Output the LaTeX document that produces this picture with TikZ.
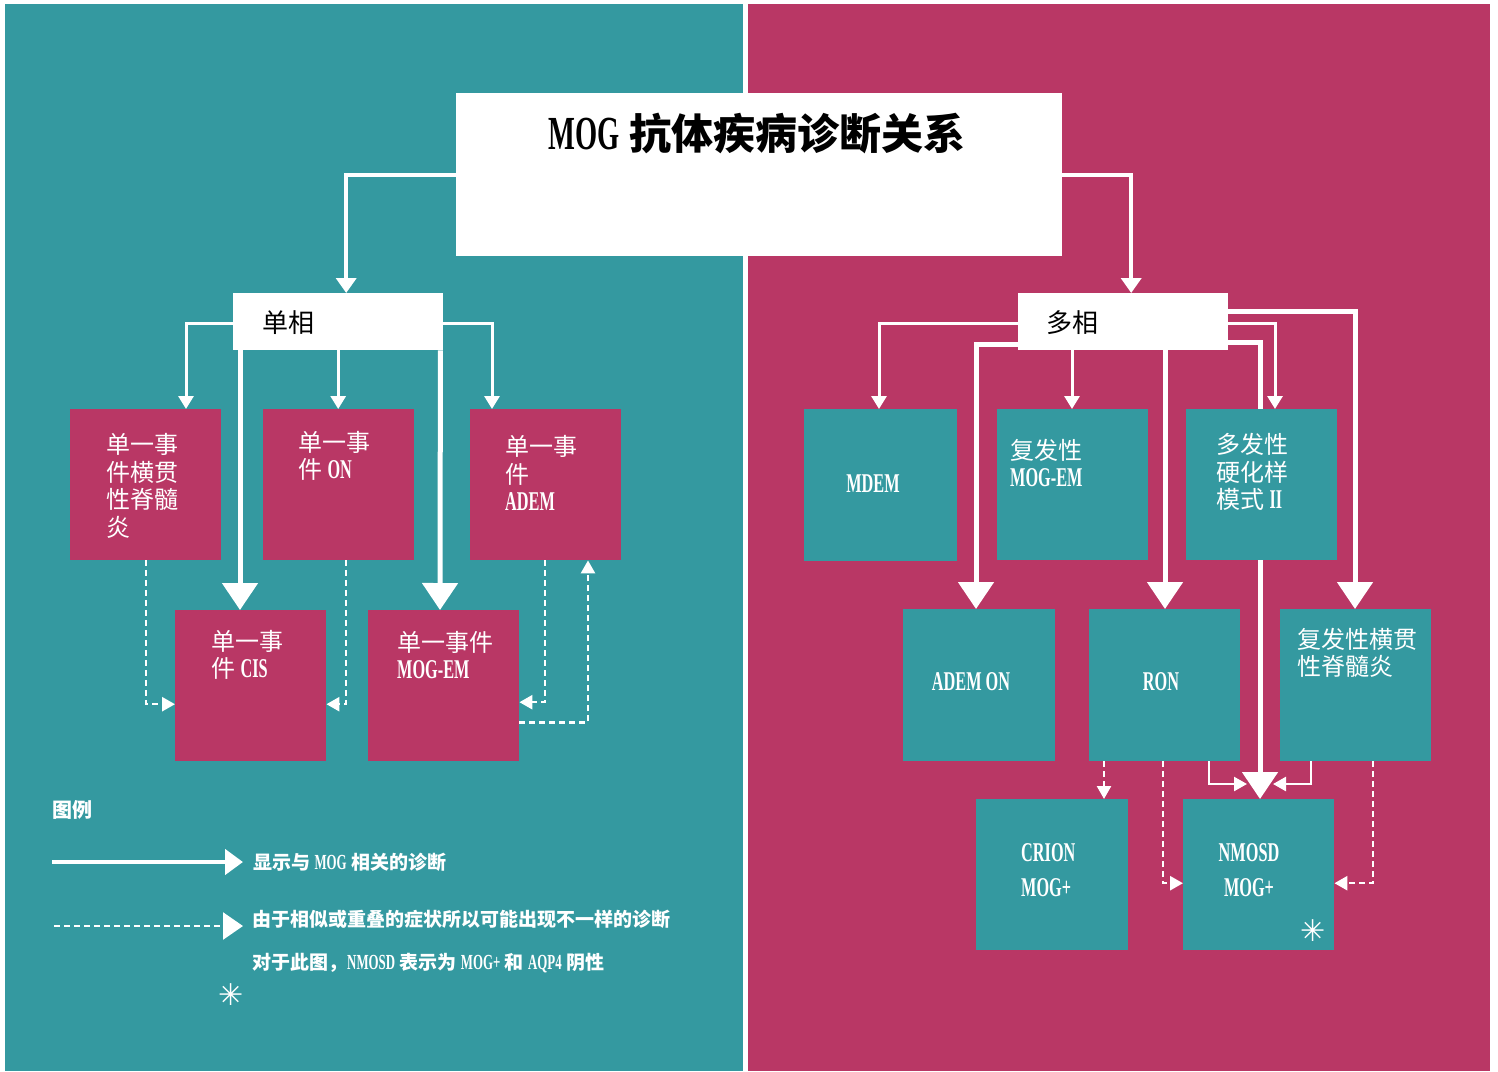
\documentclass[tikz,border=0pt]{standalone}
\usepackage{fontspec}
\setmainfont{Noto Sans CJK SC}
\newfontfamily\latf[FakeStretch=0.6,Scale=1.13]{Liberation Serif}
\newfontfamily\symf{DejaVu Sans}
\newcommand\lat[1]{{\latf\bfseries #1}}
\usetikzlibrary{arrows.meta,calc}
\definecolor{tealc}{RGB}{52,153,160}
\definecolor{crimc}{RGB}{185,55,101}
\pgfdeclarelayer{back}
\pgfdeclarelayer{behind}
\pgfsetlayers{back,behind,main}
\begin{document}
\begin{tikzpicture}[x=1pt,y=-1pt,
  bx/.style={draw=none, inner sep=0pt, minimum width=151pt, minimum height=151pt, anchor=north west},
  lbox/.style={bx, fill=crimc},
  rbox/.style={bx, fill=tealc},
  wbox/.style={fill=white, draw=none, inner sep=0pt, anchor=north west},
  wtxt/.style={text=white, inner sep=0pt, align=left, font=\fontsize{24}{27.5}\selectfont},
  btxt/.style={text=black, inner sep=0pt, font=\fontsize{26}{28}\selectfont},
  legtxt/.style={text=white, inner sep=0pt, anchor=west, font=\bfseries\fontsize{19}{21}\selectfont},
  big/.style={draw=white, line width=5pt, -{Triangle[width=35pt,length=27pt]}},
  mid/.style={draw=white, line width=4pt, -{Triangle[width=20pt,length=15pt]}},
  sml/.style={draw=white, line width=3pt, -{Triangle[width=15pt,length=13pt]}},
  thn/.style={draw=white, line width=2.5pt, -{Triangle[width=14pt,length=13pt]}},
  dsh/.style={draw=white, line width=2.5pt, dash pattern=on 6pt off 4pt, -{Triangle[width=14pt,length=13pt]}},
  star/.style={text=white, inner sep=0pt, font=\symf\fontsize{30}{30}\selectfont}
]
% background
\begin{pgfonlayer}{back}
\fill[white] (0,0) rectangle (1498,1071);
\fill[tealc] (5,4) rectangle (743,1071);
\fill[crimc] (748,4) rectangle (1490,1071);
\end{pgfonlayer}
\useasboundingbox (0,0) rectangle (1498,1071);

% title
\node[wbox, minimum width=606pt, minimum height=163pt] (title) at (456,93) {};
\node[inner sep=0pt, font=\bfseries\fontsize{42}{46}\selectfont] (tt) at (757,134) {\lat{MOG} 抗体疾病诊断关系};

% phase boxes
\node[wbox, minimum width=210pt, minimum height=57pt] (dan) at (233,293) {};
\node[btxt, anchor=west] (dant) at (262,323) {单相};
\node[wbox, minimum width=210pt, minimum height=57pt] (duo) at (1018,293) {};
\node[btxt, anchor=west] (duot) at (1046,323) {多相};

% left boxes
\node[lbox] (b1) at (70,409) {};
\node[lbox] (b2) at (263,409) {};
\node[lbox] (b3) at (470,409) {};
\node[lbox] (b4) at (175,610) {};
\node[lbox] (b5) at (368,610) {};
\node[wtxt, anchor=west] (t1) at (106,486) {单一事\\件横贯\\性脊髓\\炎};
\node[wtxt, anchor=west] (t2) at (298,456) {单一事\\件 \lat{ON}};
\node[wtxt, anchor=west] (t3) at (505,473) {单一事\\件\\\lat{ADEM}};
\node[wtxt, anchor=west] (t4) at (211,655) {单一事\\件 \lat{CIS}};
\node[wtxt, anchor=west] (t5) at (397,655) {单一事件\\\lat{MOG-EM}};

% right boxes
\node[rbox, minimum width=153pt, minimum height=152pt] (r1) at (804,409) {};
\node[rbox] (r2) at (997,409) {};
\node[rbox] (r3) at (1186,409) {};
\node[rbox, minimum width=152pt, minimum height=152pt] (r4) at (903,609) {};
\node[rbox, minimum height=152pt] (r5) at (1089,609) {};
\node[rbox, minimum height=152pt] (r6) at (1280,609) {};
\node[rbox, minimum width=152pt] (r7) at (976,799) {};
\node[rbox] (r8) at (1183,799) {};
\node[wtxt] (s1) at (873,484) {\lat{MDEM}};
\node[wtxt, anchor=west] (s2) at (1010,463) {复发性\\\lat{MOG-EM}};
\node[wtxt, anchor=west] (s3) at (1216,472) {多发性\\硬化样\\模式 \lat{II}};
\node[wtxt] (s4) at (971,682) {\lat{ADEM ON}};
\node[wtxt] (s5) at (1161,682) {\lat{RON}};
\node[wtxt, anchor=west] (s6) at (1297,653) {复发性横贯\\性脊髓炎};
\node[wtxt, anchor=west, font=\fontsize{24}{35}\selectfont] (s7) at (1021,870) {\lat{CRION}\\\lat{MOG+}};
\node[wtxt, align=center, font=\fontsize{24}{35}\selectfont] (s8) at (1249,870) {\lat{NMOSD}\\\lat{MOG+}};
\node[star] (ast1) at (1313,931) {✳};

% title connectors
\draw[mid] (title.west) -| ([xshift=8pt]dan.north);
\draw[mid] (title.east) -| ([xshift=8pt]duo.north);

% left connectors
\draw[sml] ([yshift=-1.5pt]dan.west) -| ([xshift=116pt]b1.north west);
\draw[sml] (dan.south) -- (dan.south |- b2.north);
\draw[sml] ([yshift=-1.5pt]dan.east) -| ([xshift=22pt]b3.north west);
\draw[big] ([xshift=7pt]dan.south west) -- ([xshift=65pt]b4.north west);
\draw[big] ([xshift=-3pt]dan.south east) -- ([xshift=72pt]b5.north west);
\draw[dsh] ([xshift=76pt]b1.south west) |- ([yshift=-18.5pt]b4.west);
\draw[dsh] ([xshift=83pt]b2.south west) |- ([yshift=-18.5pt]b4.east);
\draw[dsh] ([xshift=75pt]b3.south west) |- ([yshift=-16.5pt]b5.east);
\draw[dsh] ([yshift=-37pt]b5.east) -| ([xshift=118pt]b3.south west);

% right connectors
\draw[sml] ([yshift=-1.5pt]duo.west) -| ([xshift=75pt]r1.north west);
\draw[big] ([yshift=-22.5pt]duo.west) -| ([xshift=73pt]r4.north west);
\draw[sml] ([xshift=54pt]duo.south west) -- ([xshift=75pt]r2.north west);
\draw[big] ([xshift=147pt]duo.south west) -- ([xshift=76pt]r5.north west);
\draw[big] ([yshift=10.5pt]duo.east) -| ([xshift=75pt]r6.north west);
\draw[sml] ([yshift=-1.5pt]duo.east) -| ([xshift=89pt]r3.north west);
\begin{pgfonlayer}{behind}
\draw[big] ([yshift=-20.5pt]duo.east) -| ([xshift=77pt]r8.north west);
\end{pgfonlayer}
\coordinate (m1) at (1247,784);
\coordinate (m2) at (1273,784);
\draw[dsh] ([xshift=15pt]r5.south west) -- ([xshift=128pt]r7.north west);
\draw[dsh] ([xshift=74pt]r5.south west) |- ([yshift=-8.5pt]r8.west);
\draw[thn] ([xshift=120pt]r5.south west) |- (m1);
\draw[thn] ([xshift=31pt]r6.south west) |- (m2);
\draw[dsh] ([xshift=93pt]r6.south west) |- ([yshift=-8.5pt]r8.east);

% legend
\node[legtxt, font=\bfseries\fontsize{20}{22}\selectfont] (leg) at (52,810) {图例};
\coordinate (la1) at (52,862);
\coordinate (la2) at (243,862);
\draw[draw=white, line width=4.5pt, -{Triangle[width=25pt,length=18pt]}] (la1) -- (la2);
\node[legtxt] (lt1) at (253,862) {显示与 \lat{MOG} 相关的诊断};
\coordinate (lb1) at (54,926);
\coordinate (lb2) at (243,926);
\draw[draw=white, line width=2.5pt, dash pattern=on 6pt off 4pt, -{Triangle[width=27pt,length=20pt]}] (lb1) -- (lb2);
\node[legtxt] (lt2) at (252,919) {由于相似或重叠的症状所以可能出现不一样的诊断};
\node[legtxt] (lt3) at (252,963) {对于此图，\lat{NMOSD} 表示为 \lat{MOG+} 和 \lat{AQP4} 阴性};
\node[star] (ast2) at (231,995) {✳};
\end{tikzpicture}
\end{document}
